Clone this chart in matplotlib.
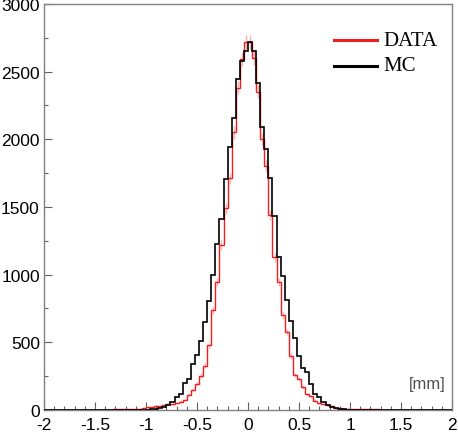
import numpy as np
import matplotlib
matplotlib.use("Agg")
import matplotlib.pyplot as plt

# 100 bins of 0.04 mm between -2 and 2
bin_edges = np.linspace(-2, 2, 101)

# MC counts (black)
mc_counts = [0] * 24 + [
    1, 2, 4, 7, 12, 20, 35, 57, 94, 119,
    198, 225, 341, 402, 506, 650, 802, 1000, 1222, 1410,
    1706, 1941, 2160, 2447, 2578, 2650, 2715, 2650, 2415, 2089,
    1925, 1716, 1432, 1131, 988, 812, 655, 531, 400, 309,
    281, 190, 119, 94, 57, 34, 20, 12, 7, 4,
    2, 1] + [0] * 24

# DATA counts (red)
data_counts = [0] * 17 + [
    3, 4, 5, 6, 7, 8, 10, 12, 20, 25,
    28, 32, 35, 40, 44, 49, 62, 74, 111, 150,
    193, 254, 328, 476, 736, 946, 1217, 1489, 1711, 2050,
    2380, 2590, 2720, 2720, 2600, 2350, 2000, 1802, 1440, 1126,
    946, 699, 575, 398, 259, 230, 168, 115, 100, 69,
    50, 44, 35, 30, 15, 12, 10, 8, 7, 6,
    5, 5, 4, 3, 3, 2] + [0] * 17

fig = plt.figure(figsize=(4.58, 4.39), dpi=100)
ax = fig.add_axes([0.096, 0.064, 0.891, 0.925])

red = "#f01e1e"
centers = 0.5 * (bin_edges[:-1] + bin_edges[1:])
data_arr = np.array(data_counts, dtype=float)
mask = data_arr > 0

ax.stairs(data_counts, bin_edges, color=red, lw=1.0, zorder=3)
ax.errorbar(centers[mask], data_arr[mask], yerr=np.sqrt(data_arr[mask]),
            fmt="none", ecolor=red, alpha=0.35, lw=1.0, zorder=2)
ax.stairs(mc_counts, bin_edges, color="black", lw=1.2, zorder=4)

ax.set_xlim(-2, 2)
ax.set_ylim(0, 3000)
ax.set_xticks(np.arange(-2, 2.01, 0.5))
ax.set_xticklabels(["-2", "-1.5", "-1", "-0.5", "0", "0.5", "1", "1.5", "2"])
ax.set_xticks(np.arange(-2, 2.01, 0.1), minor=True)
ax.set_yticks(np.arange(0, 3001, 500))
ax.set_yticks(np.arange(0, 3001, 250), minor=True)

for s in ax.spines.values():
    s.set_color("#808080")
    s.set_linewidth(1.0)
ax.tick_params(which="both", direction="in", color="#606060", labelsize=12.5)
ax.tick_params(which="major", length=5.5, width=0.8)
ax.tick_params(which="minor", length=3, width=0.8)
ax.tick_params(axis="x", pad=5)
ax.tick_params(axis="y", pad=3)
for lab in ax.get_xticklabels() + ax.get_yticklabels():
    lab.set_family("Liberation Sans")

# legend drawn by hand
ax.plot([0.71, 0.815], [0.91, 0.91], transform=ax.transAxes, color=red, lw=2.2)
ax.plot([0.71, 0.815], [0.847, 0.847], transform=ax.transAxes, color="black", lw=2.2)
ax.text(0.832, 0.91, "DATA", transform=ax.transAxes, va="center", ha="left",
        family="Liberation Serif", fontsize=15)
ax.text(0.832, 0.847, "MC", transform=ax.transAxes, va="center", ha="left",
        family="Liberation Serif", fontsize=15)

ax.text(0.985, 0.065, "[mm]", transform=ax.transAxes, ha="right", va="center",
        family="Liberation Sans", fontsize=12, color="#505050")

fig.savefig("out.png", dpi=100)
